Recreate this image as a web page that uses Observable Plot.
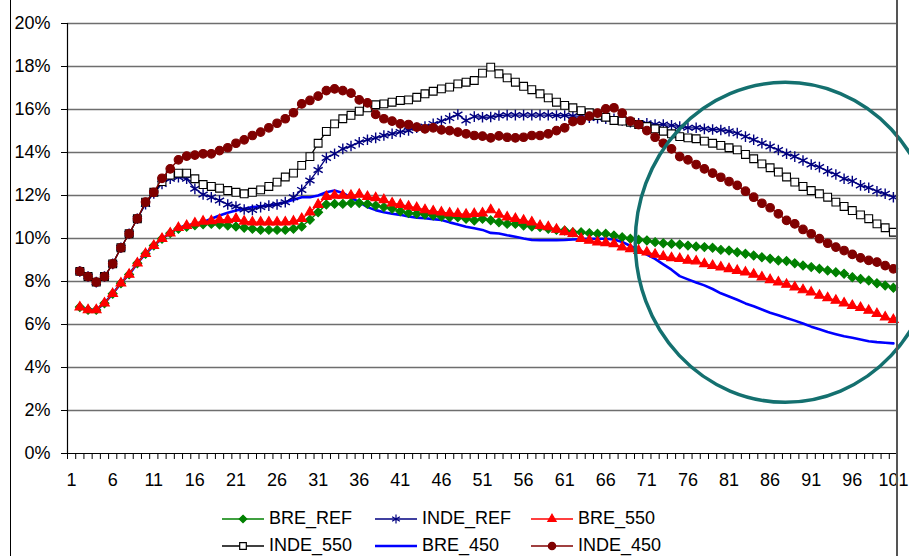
<!DOCTYPE html>
<html>
<head>
<meta charset="utf-8">
<script src="https://cdn.jsdelivr.net/npm/d3@7"></script>
<script src="https://cdn.jsdelivr.net/npm/@observablehq/plot@0.6"></script>
<style>
  body { margin: 0; background: #fff; overflow: hidden; font-family: "Liberation Sans", Arial, sans-serif; }
  #chart { position: relative; width: 909px; height: 556px; }
  #chart svg.plot { position: absolute; left: 0; top: 0; }
  .edge { position: absolute; top: 0; height: 556px; }
  #legend { position: absolute; left: 222px; top: 505px; display: grid;
            grid-template-columns: 153px 156px 160px; grid-auto-rows: 27px; font-size: 18px; color: #000; }
  #legend .item { display: flex; align-items: center; white-space: nowrap; }
  #legend svg { margin-right: 5px; flex: none; }
</style>
</head>
<body>
<div id="chart"></div>
<script>
// Categories 2..101 carry values (category 1 is left empty), values in %
const steps = d3.range(2, 102);

const breRef = [
  6.81, 6.68, 6.68, 6.99, 7.43, 7.92, 8.33, 8.85, 9.29, 9.67, 9.99, 10.25, 10.45,
  10.55, 10.62, 10.66, 10.68,
  10.65, 10.60, 10.56, 10.50, 10.45, 10.40, 10.40, 10.40, 10.40, 10.45, 10.56, 10.87, 11.22, 11.58, 11.61, 11.61,
  11.65, 11.65,
  11.61, 11.53, 11.46, 11.38, 11.27, 11.18, 11.15, 11.12, 11.07, 11.02, 10.99, 10.99, 10.92, 10.84, 10.92,
  10.85,
  10.76, 10.68, 10.68, 10.60, 10.56, 10.53, 10.45, 10.40, 10.37, 10.29, 10.29, 10.25, 10.22, 10.22,
  10.14, 10.06, 9.99, 9.94, 9.91, 9.83, 9.78, 9.75, 9.72, 9.67, 9.63, 9.60, 9.57, 9.47, 9.44, 9.36, 9.29, 9.21,
  9.13, 9.06, 8.98, 8.95, 8.85, 8.74, 8.67, 8.59, 8.51, 8.43, 8.36, 8.20, 8.12, 8.05, 7.92, 7.81, 7.71
];

const indeRef = [
  8.47, 8.23, 7.97, 8.23, 8.82, 9.57, 10.22, 10.92, 11.60, 12.10,
  12.54, 12.78, 12.85, 12.78, 12.31, 12.05, 11.92, 11.77, 11.58, 11.49,
  11.35, 11.33, 11.46, 11.53, 11.58, 11.69, 11.92, 12.26, 12.70, 13.19,
  13.75, 13.94, 14.17, 14.30, 14.48, 14.59, 14.68, 14.79, 14.87, 14.95,
  15.02, 15.15, 15.21, 15.33, 15.46, 15.60, 15.77, 15.49, 15.67, 15.64,
  15.65, 15.72, 15.74, 15.74, 15.74, 15.74, 15.74, 15.74, 15.72, 15.72,
  15.70, 15.68, 15.62, 15.60, 15.57,
  15.57, 15.49, 15.41, 15.36, 15.36, 15.30, 15.30, 15.26, 15.21, 15.15,
  15.15, 15.10, 15.07, 15.05, 14.99, 14.90, 14.74, 14.59, 14.43, 14.28,
  14.12, 13.94, 13.81, 13.63, 13.44, 13.32, 13.13, 12.98, 12.78, 12.67,
  12.47, 12.36, 12.20, 12.08, 11.92
];

const bre550 = [
  6.81, 6.68, 6.68, 6.99, 7.43, 7.92, 8.33, 8.85, 9.29, 9.67, 9.99, 10.25, 10.50, 10.60, 10.71, 10.80, 10.82,
  10.87, 10.87, 10.92, 10.80, 10.76, 10.76, 10.76, 10.76, 10.76, 10.80, 10.92, 11.22, 11.58, 11.95, 12.00, 12.00, 12.00,
  12.05, 11.95, 11.89, 11.80, 11.64, 11.58, 11.49, 11.43, 11.33, 11.27, 11.22, 11.18, 11.15, 11.12, 11.15, 11.18, 11.33,
  11.12, 10.99, 10.92, 10.84, 10.76, 10.60, 10.54, 10.42, 10.31, 10.23, 9.99, 9.91, 9.83, 9.80,
  9.75, 9.60, 9.52, 9.44, 9.36, 9.26, 9.16, 9.10, 9.06, 8.98, 8.95, 8.82, 8.74, 8.67, 8.59, 8.51, 8.43, 8.33,
  8.20, 8.08, 7.97, 7.86, 7.74, 7.61, 7.50, 7.35, 7.24, 7.12, 6.99, 6.88, 6.78, 6.65, 6.50, 6.34, 6.22
];

const inde550 = [
  8.47, 8.23, 7.97, 8.23, 8.82, 9.57, 10.22, 10.92, 11.69, 12.15,
  12.65, 12.95, 13.04, 13.04, 12.78, 12.51, 12.42, 12.34, 12.23, 12.15,
  12.08, 12.15, 12.26, 12.42, 12.62, 12.86, 13.04, 13.40, 13.81, 14.43,
  14.98, 15.33, 15.57, 15.73, 15.92, 16.08, 16.22, 16.26, 16.34, 16.42,
  16.45, 16.57, 16.73, 16.85, 16.96, 17.04, 17.19, 17.27, 17.35, 17.69,
  17.97, 17.66, 17.47, 17.27, 17.08, 16.92, 16.73, 16.54, 16.34, 16.19,
  16.08, 15.95, 15.85, 15.72, 15.64,
  15.49, 15.46, 15.41, 15.30, 15.21, 15.10, 14.99, 14.87, 14.74, 14.68,
  14.64, 14.53, 14.43, 14.33, 14.22, 14.12, 13.91, 13.71, 13.47, 13.29,
  13.09, 12.86, 12.62, 12.42, 12.23, 12.08, 11.92, 11.69, 11.49, 11.30,
  11.10, 10.92, 10.68, 10.50, 10.29
];

const bre450 = [
  6.81, 6.68, 6.68, 6.99, 7.43, 7.92, 8.33, 8.85, 9.29, 9.67, 9.99, 10.25,
  10.50, 10.60, 10.68, 10.76, 10.92, 11.07, 11.20, 11.30, 11.38, 11.46, 11.50, 11.53, 11.60, 11.69, 11.80,
  11.92, 11.92, 12.00, 12.15, 12.23, 12.12, 11.90,
  11.69, 11.46, 11.32, 11.22, 11.15, 11.10, 11.02, 10.97, 10.94, 10.90, 10.86, 10.75, 10.65, 10.55, 10.48, 10.40, 10.26,
  10.23, 10.15, 10.08, 10.00, 9.93, 9.92, 9.92, 9.92, 9.93, 9.95, 9.97, 9.99, 9.99, 9.99,
  9.95, 9.84, 9.65, 9.47, 9.25, 9.05, 8.80, 8.55, 8.25, 8.10, 7.95, 7.82, 7.65, 7.45, 7.30, 7.15, 6.98, 6.85,
  6.70, 6.55, 6.43, 6.30, 6.18, 6.05, 5.90, 5.78, 5.65, 5.55, 5.45, 5.38, 5.30, 5.22, 5.18, 5.15, 5.12
];

const inde450 = [
  8.47, 8.23, 7.97, 8.23, 8.82, 9.57, 10.22, 10.92, 11.69, 12.15,
  12.80, 13.24, 13.66, 13.83, 13.88, 13.94, 13.94, 14.09, 14.22, 14.43,
  14.59, 14.79, 14.95, 15.15, 15.36, 15.57, 15.85, 16.26, 16.42, 16.62,
  16.88, 16.96, 16.88, 16.76, 16.45, 16.31, 15.77, 15.57, 15.46, 15.33,
  15.30, 15.18, 15.10, 15.15, 15.05, 15.02, 14.95, 14.87, 14.79, 14.76,
  14.68, 14.77, 14.71, 14.68, 14.71, 14.79, 14.79, 14.87, 15.02, 15.15,
  15.44, 15.49, 15.69, 15.83, 16.03,
  16.08, 15.83, 15.46, 15.30, 15.02, 14.71, 14.43, 14.17, 13.81, 13.66,
  13.44, 13.24, 13.04, 12.85, 12.65, 12.47, 12.20, 11.92, 11.64, 11.43,
  11.15, 10.84, 10.68, 10.42, 10.22, 9.99, 9.78, 9.60, 9.44, 9.26,
  9.10, 8.98, 8.90, 8.74, 8.59
];

const xTickLabels = [1, 6, 11, 16, 21, 26, 31, 36, 41, 46, 51, 56, 61, 66, 71, 76, 81, 86, 91, 96, 101];
const yTicks = [0, 2, 4, 6, 8, 10, 12, 14, 16, 18, 20];

// highlighted region (data units): centre and half extents
const focus = { cx: 87.9, cy: 9.8, halfSteps: 18.25, halfValue: 7.44 };

const series = [
  { name: "BRE_REF",  values: breRef,  color: "#008000", symbol: "diamond2", r: 4,   fill: "#008000", width: 1.4 },
  { name: "INDE_REF", values: indeRef, color: "#000080", symbol: "asterisk", r: 5,   fill: "none",    width: 1.3 },
  { name: "BRE_550",  values: bre550,  color: "#ff0000", symbol: "triangle", r: 3.6, fill: "#ff0000", width: 1.4 },
  { name: "INDE_550", values: inde550, color: "#000000", symbol: "square",   r: 4.4, fill: "#ffffff", width: 1.3 },
  { name: "BRE_450",  values: bre450,  color: "#0000ff", symbol: null,       r: 0,   fill: null,      width: 2.6 },
  { name: "INDE_450", values: inde450, color: "#800000", symbol: "circle",   r: 4.3, fill: "#800000", width: 1.4 },
];
const drawOrder = ["BRE_450", "BRE_REF", "INDE_REF", "BRE_550", "INDE_550", "INDE_450"];

function seriesMarks(s) {
  const rows = s.values.map((v, i) => ({ step: steps[i], value: v }));
  const marks = [Plot.line(rows, { x: "step", y: "value", stroke: s.color, strokeWidth: s.width })];
  if (s.symbol) {
    marks.push(Plot.dot(rows, {
      x: "step", y: "value", symbol: () => s.symbol, r: s.r,
      fill: s.fill, stroke: s.color, strokeWidth: s.symbol === "asterisk" ? 1.4 : 1.1
    }));
  }
  return marks;
}

const plot = Plot.plot({
  width: 909,
  height: 500,
  marginLeft: 67,
  marginRight: 12,
  marginTop: 23,
  marginBottom: 47,
  style: { fontFamily: "'Liberation Sans', Arial, sans-serif", fontSize: "18px", color: "#000", background: "transparent" },
  x: { type: "linear", domain: [0.5, 101.5], label: null },
  y: { domain: [0, 20], label: null },
  symbol: { type: "identity" },
  marks: [
    Plot.ruleY(yTicks.filter(d => d > 0), { stroke: "#6e6e6e", strokeWidth: 1.3 }),
    Plot.axisY({ ticks: yTicks, tickSize: 6, tickPadding: 11, tickFormat: d => d + "%", label: null, stroke: "#000" }),
    Plot.axisX({ ticks: d3.range(0.5, 102, 1), tickSize: 6, tickFormat: () => "", label: null, stroke: "#000" }),
    Plot.axisX({ ticks: xTickLabels, tickSize: 0, tickPadding: 20, label: null }),
    Plot.ruleX([0.5], { stroke: "#000", strokeWidth: 1.2 }),
    Plot.ruleY([0], { stroke: "#000", strokeWidth: 1.2 }),
    ...drawOrder.flatMap(n => seriesMarks(series.find(s => s.name === n))),
  ],
});

// annotation ellipse placed through the chart's own scales
const sx = plot.scale("x"), sy = plot.scale("y");
const ecx = sx.apply(focus.cx), ecy = sy.apply(focus.cy);
d3.select(plot).append("ellipse")
  .attr("cx", ecx).attr("cy", ecy)
  .attr("rx", sx.apply(focus.cx + focus.halfSteps) - ecx)
  .attr("ry", ecy - sy.apply(focus.cy + focus.halfValue))
  .attr("fill", "none").attr("stroke", "#14706f").attr("stroke-width", 3.5);
d3.select(plot).style("overflow", "visible");

const chart = document.getElementById("chart");
chart.appendChild(plot);

// chart area borders
chart.insertAdjacentHTML("beforeend",
  `<div class="edge" style="left:10px;border-left:1px solid #000"></div>
   <div class="edge" style="left:896px;border-left:2px solid #555"></div>`);

// legend
const symbolTypes = { diamond2: d3.symbolDiamond2, asterisk: d3.symbolAsterisk, triangle: d3.symbolTriangle, square: d3.symbolSquare, circle: d3.symbolCircle };
const legend = document.createElement("div");
legend.id = "legend";
for (const s of series) {
  const item = document.createElement("div");
  item.className = "item";
  let marker = "";
  if (s.symbol) {
    const d = d3.symbol(symbolTypes[s.symbol], Math.PI * (s.r * 0.85) ** 2)();
    marker = `<path transform="translate(21,8)" d="${d}" fill="${s.fill}" stroke="${s.color}" stroke-width="1.2"/>`;
  }
  item.innerHTML = `<svg width="42" height="16"><line x1="0" x2="42" y1="8" y2="8" stroke="${s.color}" stroke-width="${s.width}"/>${marker}</svg><span>${s.name}</span>`;
  legend.appendChild(item);
}
chart.appendChild(legend);
</script>
</body>
</html>
